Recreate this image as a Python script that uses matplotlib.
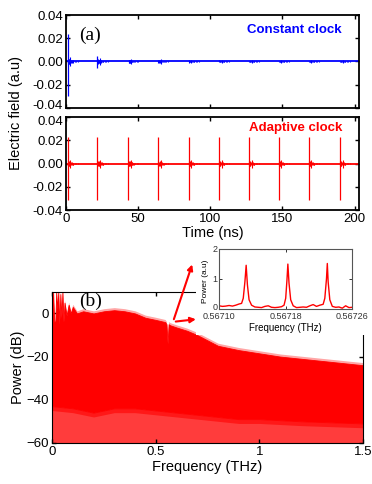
import matplotlib
matplotlib.use("Agg")
import matplotlib.pyplot as plt
import matplotlib.transforms as mtrans
from matplotlib.patches import Rectangle, FancyArrowPatch
import numpy as np

plt.rcParams['font.family'] = ['Liberation Sans', 'DejaVu Sans']

# ---------------- data ----------------
# (a) time traces
burst_times = [1.2, 21.9, 43.0, 63.7, 85.0, 105.8, 126.6, 147.3, 168.1, 189.6]
const_spike_hi = [0.024, 0.0045, 0.0, 0.0, 0.0, 0.0, 0.0, 0.0, 0.0, 0.0]
const_spike_lo = [-0.030, -0.0055, 0.0, 0.0, 0.0, 0.0, 0.0, 0.0, 0.0, 0.0]
const_ring_scale = [1.0, 0.8, 0.6, 0.5, 0.4, 0.35, 0.3, 0.3, 0.3, 0.3]
adapt_spike_hi = [0.023] * 10
adapt_spike_lo = [-0.031] * 10
adapt_ring_scale = [1.0] * 10
ring_offsets = [0.4, 0.8, 1.2, 1.6, 2.0, 2.5, 3.0, 3.5, 4.0, 5.0, 6.0, 7.0]
ring_amps = [0.0025, 0.0018, 0.0020, 0.0015, 0.0035, 0.0012, 0.0010, 0.0009,
             0.0008, 0.0006, 0.0005, 0.0004]

# (b) spectrum envelopes (dB)
upper_freq = [0, 0.005, 0.01, 0.015, 0.02, 0.025, 0.03, 0.035, 0.04, 0.045, 0.05,
              0.055, 0.06, 0.07, 0.08, 0.09, 0.1, 0.12, 0.15, 0.2, 0.25, 0.3, 0.35,
              0.4, 0.45, 0.5, 0.545, 0.552, 0.557, 0.562, 0.57, 0.6, 0.65, 0.7,
              0.75, 0.8, 0.9, 1.0, 1.1, 1.2, 1.3, 1.4, 1.5]
upper_db = [-5, 10, -3, -6, 10, 2, 10, -5, 9, -2, 10,
            -4, 5, -1, 4, 0, 3, 0, 1, 0, 1, 1.5, 1,
            0, -2, -3, -4, -5, -14, -5, -5.5, -6.5, -8, -10,
            -12.5, -15, -17, -18.5, -20, -21, -22, -23, -24]
lower_freq = [0, 0.1, 0.2, 0.3, 0.4, 0.5, 0.6, 0.7, 0.8, 0.9, 1.0, 1.2, 1.5]
lower_db = [-43, -44, -46, -44, -44, -45, -46, -47, -48, -49, -49, -50, -51]

# inset
inset_freq = [0.567100, 0.567104, 0.567108, 0.567112, 0.567116, 0.567120, 0.567124,
              0.567127, 0.567129, 0.567131, 0.5671325, 0.567134, 0.567136, 0.567139,
              0.567143, 0.567147, 0.567151, 0.567155, 0.567159, 0.567163, 0.567167,
              0.567171, 0.567175, 0.567178, 0.567180, 0.5671815, 0.5671826, 0.5671840,
              0.567186, 0.567189, 0.567193, 0.567197, 0.567201, 0.567205, 0.567209,
              0.567213, 0.567217, 0.567221, 0.567225, 0.567227, 0.567229, 0.567230,
              0.567231, 0.567233, 0.567236, 0.567240, 0.567244, 0.567248, 0.567252,
              0.567256, 0.567260]
inset_power = [0.10, 0.08, 0.09, 0.11, 0.09, 0.12, 0.16, 0.18, 0.35, 0.9, 1.45, 0.8,
               0.3, 0.12, 0.06, 0.05, 0.04, 0.08, 0.10, 0.05, 0.04, 0.05, 0.07, 0.12,
               0.35, 0.95, 1.49, 0.85, 0.3, 0.10, 0.04, 0.05, 0.06, 0.05, 0.10, 0.14,
               0.08, 0.12, 0.15, 0.35, 1.0, 1.51, 0.9, 0.3, 0.08, 0.05, 0.06, 0.02,
               0.10, 0.04, 0.05]

BLUE = '#0000ff'
RED = '#ff0000'

fig = plt.figure(figsize=(3.72, 4.84), dpi=100)

ax1 = fig.add_axes([0.177, 0.777, 0.788, 0.192])
ax2 = fig.add_axes([0.177, 0.566, 0.788, 0.192])
ax3 = fig.add_axes([0.140, 0.085, 0.836, 0.312])


def draw_trace(ax, color, hi, lo, scale):
    ax.plot([0, 203], [0, 0], color=color, lw=1.3, zorder=2)
    for t, h, l, s in zip(burst_times, hi, lo, scale):
        if h != 0 or l != 0:
            ax.vlines(t, l, h, color=color, lw=0.9, zorder=3)
        xs = [t + o for o in ring_offsets]
        amps = [a * s for a in ring_amps]
        ax.vlines(xs, [-a for a in amps], amps, color=color, lw=0.8, zorder=3)


draw_trace(ax1, BLUE, const_spike_hi, const_spike_lo, const_ring_scale)
draw_trace(ax2, RED, adapt_spike_hi, adapt_spike_lo, adapt_ring_scale)

for ax in (ax1, ax2):
    ax.set_xlim(0, 203)
    ax.set_ylim(-0.04, 0.04)
    ax.set_yticks([-0.04, -0.02, 0.0, 0.02, 0.04])
    ax.set_yticklabels(['-0.04', '-0.02', '0.00', '0.02', '0.04'])
    ax.set_xticks([0, 50, 100, 150, 200])
    ax.tick_params(direction='in', top=True, right=True, length=3, width=1,
                   labelsize=9.5, pad=2)
    for sp in ax.spines.values():
        sp.set_linewidth(1.3)
ax1.set_xticklabels([])
ax2.set_xlabel('Time (ns)', fontsize=10.5, labelpad=1)

# nudge the two touching tick labels between the panels apart
fig.canvas.draw()
lab_lo = ax1.get_yticklabels()[0]
lab_lo.set_transform(lab_lo.get_transform() +
                     mtrans.ScaledTranslation(0, 2.5 / 72, fig.dpi_scale_trans))
lab_hi = ax2.get_yticklabels()[-1]
lab_hi.set_transform(lab_hi.get_transform() +
                     mtrans.ScaledTranslation(0, -2.5 / 72, fig.dpi_scale_trans))

ax1.text(0.942, 0.84, 'Constant clock', transform=ax1.transAxes, color=BLUE,
         fontsize=9.5, fontweight='bold', ha='right', va='center')
ax2.text(0.942, 0.88, 'Adaptive clock', transform=ax2.transAxes, color=RED,
         fontsize=9.5, fontweight='bold', ha='right', va='center')
ax1.text(0.084, 0.785, '(a)', transform=ax1.transAxes, fontsize=14,
         family='Liberation Serif', ha='center', va='center')
fig.text(0.043, 0.767, 'Electric field (a.u)', rotation=90, fontsize=10.5,
         ha='center', va='center')

# spectrum
lower_on_upper = np.interp(upper_freq, lower_freq, lower_db)
ax3.fill_between(lower_freq, -60, lower_db, color='#ff3c3c', lw=0, zorder=1)
ax3.fill_between(upper_freq, lower_on_upper, upper_db,
                 color=RED, lw=0.6, edgecolor=RED, zorder=2)
ax3.fill_between(upper_freq, np.array(upper_db) - 1.0, np.array(upper_db) + 1.2,
                 color=RED, alpha=0.35, lw=0, zorder=2)
ax3.fill_between(lower_freq, np.array(lower_db) - 2, np.array(lower_db) + 1,
                 color=RED, alpha=0.6, lw=0, zorder=2)
ax3.set_xlim(0, 1.5)
ax3.set_ylim(-60, 10)
ax3.set_xticks([0, 0.5, 1, 1.5])
ax3.set_xticklabels(['0', '0.5', '1', '1.5'])
ax3.set_yticks([-60, -40, -20, 0])
ax3.tick_params(direction='in', top=True, right=True, length=3, width=1,
                labelsize=9.5, pad=2)
ax3.set_xlabel('Frequency (THz)', fontsize=10.5, labelpad=2)
ax3.set_ylabel('Power (dB)', fontsize=10.5, labelpad=1)
ax3.text(0.125, 0.936, '(b)', transform=ax3.transAxes, fontsize=14,
         family='Liberation Serif', ha='center', va='center', zorder=5)

# white backdrop for inset
fig.add_artist(Rectangle((0.527, 0.308), 0.473, 0.19, transform=fig.transFigure,
                         facecolor='white', edgecolor='none', zorder=1))

axi = fig.add_axes([0.589, 0.362, 0.358, 0.124])
axi.set_zorder(2)
axi.plot(inset_freq, inset_power, color=RED, lw=1)
axi.set_xlim(0.56710, 0.56726)
axi.set_ylim(0, 2)
axi.set_xticks([0.56710, 0.56718, 0.56726])
axi.set_xticklabels(['0.56710', '0.56718', '0.56726'])
axi.set_yticks([0, 1, 2])
axi.tick_params(direction='in', top=True, right=True, length=2, width=0.7,
                labelsize=6.5, colors='#333333')
axi.tick_params(axis='x', pad=2.5)
axi.tick_params(axis='y', pad=1)
for sp in axi.spines.values():
    sp.set_linewidth(0.8)
    sp.set_color('#555555')
axi.set_xlabel('Frequency (THz)', fontsize=7, labelpad=1)
axi.set_ylabel('Power (a.u)', fontsize=6, labelpad=1)
axi.yaxis.set_label_coords(-0.075, 0.45)
fig.canvas.draw()
y0 = axi.get_yticklabels()[0]
y0.set_transform(y0.get_transform() +
                 mtrans.ScaledTranslation(0, 1.5 / 72, fig.dpi_scale_trans))

# arrows
start = (0.465, 0.335)
for end in [(0.519, 0.459), (0.534, 0.341)]:
    fig.add_artist(FancyArrowPatch(start, end, transform=fig.transFigure,
                                   arrowstyle='-|>', mutation_scale=8,
                                   color=RED, lw=1.5, zorder=3))

fig.savefig('out.png', dpi=100)
